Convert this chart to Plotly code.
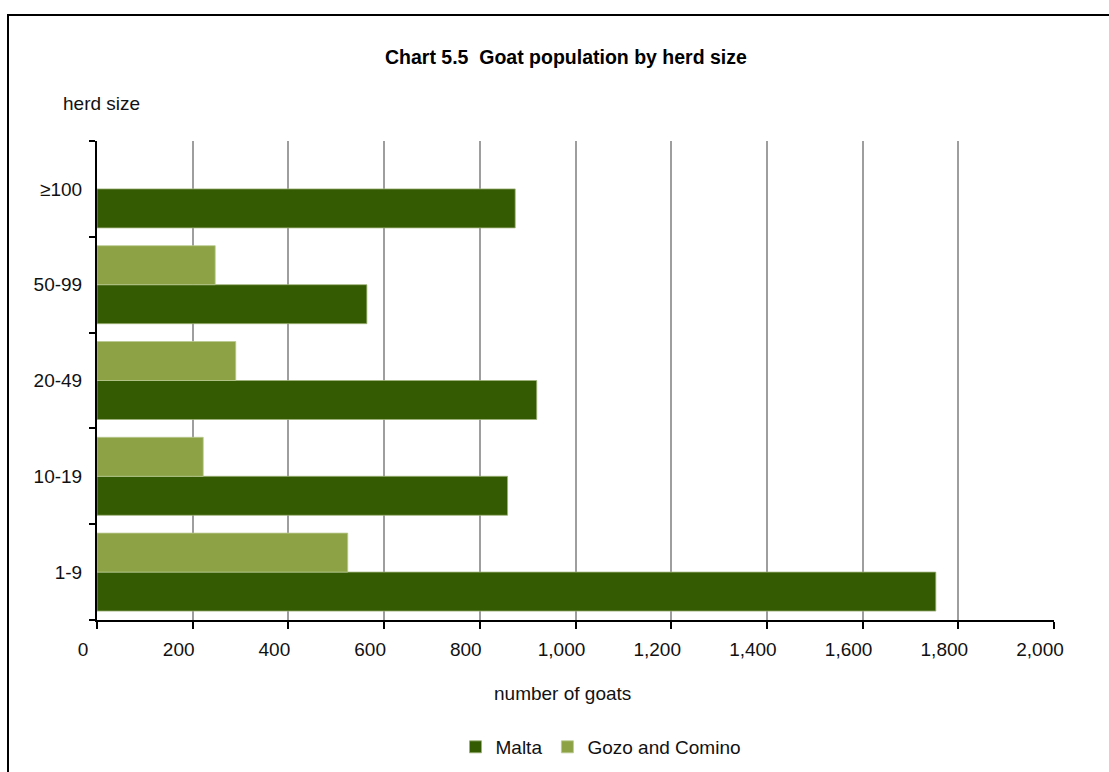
import plotly.graph_objects as go

# ---- data ----
herd_sizes = ["1-9", "10-19", "20-49", "50-99", "≥100"]
malta = [1753, 858, 919, 564, 874]
gozo_comino = [524, 222, 290, 247, None]
x_ticks = [0, 200, 400, 600, 800, 1000, 1200, 1400, 1600, 1800, 2000]

FONT = "Liberation Sans, Arial, sans-serif"
W, H = 1109, 772
ML, MR, MT, MB = 97, 55, 141, 152
PW, PH = W - ML - MR, H - MT - MB


def px(x):
    return (x - ML) / PW


def py(y):
    return (H - MB - y) / PH


fig = go.Figure()
fig.add_trace(go.Bar(
    y=herd_sizes, x=malta, name="Malta", orientation="h",
    marker=dict(color="#345A02", line=dict(color="#9fb27a", width=0.8)),
))
fig.add_trace(go.Bar(
    y=herd_sizes, x=gozo_comino, name="Gozo and Comino", orientation="h",
    marker=dict(color="#8CA244", line=dict(color="#b9c98f", width=0.8)),
))

fig.update_layout(
    width=W, height=H,
    margin=dict(l=ML, r=MR, t=MT, b=MB, pad=0, autoexpand=False),
    paper_bgcolor="white", plot_bgcolor="white",
    font=dict(family=FONT, size=19, color="#111111"),
    barmode="group", bargap=0.186, bargroupgap=0,
    showlegend=True,
    legend=dict(
        orientation="h", xref="container", yref="container",
        x=601 / W, xanchor="center", y=(H - 747) / H, yanchor="middle",
        font=dict(family=FONT, size=19, color="#111111"),
        itemwidth=30, traceorder="normal", bgcolor="rgba(0,0,0,0)",
        tracegroupgap=0,
    ),
    xaxis=dict(
        range=[0, 2000], tickvals=x_ticks, tickformat=",",
        showgrid=True, gridcolor="#9e9e9e", gridwidth=1.6,
        showline=True, linecolor="black", linewidth=2,
        ticks="outside", ticklen=7, tickwidth=2, tickcolor="black",
        ticklabelshift=-14, ticklabelstandoff=4,
        zeroline=False, fixedrange=True,
    ),
    yaxis=dict(
        categoryorder="array", categoryarray=herd_sizes,
        showgrid=False, zeroline=False,
        showline=True, linecolor="black", linewidth=2,
        ticks="outside", ticklen=6, tickwidth=2, tickcolor="black",
        tickson="boundaries", ticklabelstandoff=9, fixedrange=True,
    ),
    shapes=[dict(
        type="rect", xref="paper", yref="paper",
        x0=px(8), x1=px(W + 20), y0=py(H + 20), y1=py(15),
        line=dict(color="black", width=2), fillcolor="rgba(0,0,0,0)", layer="below",
    )],
    annotations=[
        dict(text="<b>Chart 5.5  Goat population by herd size</b>", xref="paper", yref="paper",
             x=px(566), y=py(57), xanchor="center", yanchor="middle", showarrow=False,
             font=dict(family=FONT, size=19.5, color="black")),
        dict(text="herd size", xref="paper", yref="paper",
             x=px(61), y=py(104), xanchor="left", yanchor="middle", showarrow=False,
             font=dict(family=FONT, size=19, color="#111111")),
        dict(text="number of goats", xref="paper", yref="paper",
             x=px(562), y=py(693), xanchor="center", yanchor="middle", showarrow=False,
             font=dict(family=FONT, size=19, color="#111111")),
    ],
)

fig.write_html(
    "out.html",
    config={"displayModeBar": False},
    post_script="document.body.style.margin='0';document.body.style.overflow='hidden';",
)
